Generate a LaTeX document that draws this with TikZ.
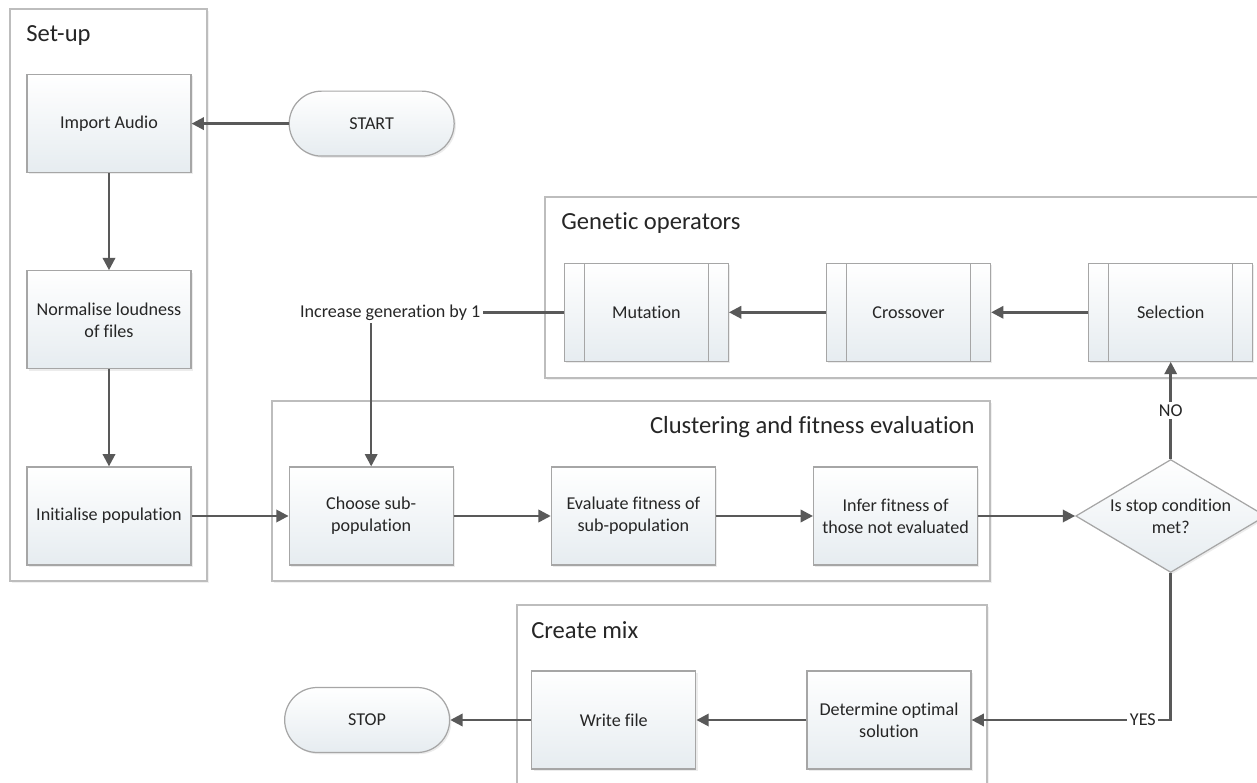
\documentclass[tikz,border=0pt]{standalone}
\usepackage{fontspec}
\setmainfont{Carlito}[Ligatures=NoCommon]
\usepackage{tikz}
\usetikzlibrary{arrows.meta,positioning,shapes.geometric,shadows}
\definecolor{ink}{HTML}{262626}
\definecolor{wire}{HTML}{595959}
\definecolor{edge}{HTML}{A6A6A6}
\definecolor{frame}{HTML}{BDBDBD}
\definecolor{shadebot}{HTML}{E6ECF0}

\begin{document}
\begin{tikzpicture}[x=0.02cm,y=-0.02cm,
  node distance=1.94cm,
  proc/.style={rectangle,draw=edge,line width=0.7pt,top color=white,bottom color=shadebot,
    minimum width=3.28cm,minimum height=1.96cm,align=center,
    font=\fontsize{10.3}{12.5}\selectfont,text=ink,
    drop shadow={shadow xshift=1pt,shadow yshift=-1pt,opacity=0.15}},
  sub/.style={proc,path picture={\draw[edge,line width=0.7pt]
    ([xshift=0.4cm]path picture bounding box.north west)--([xshift=0.4cm]path picture bounding box.south west)
    ([xshift=-0.4cm]path picture bounding box.north east)--([xshift=-0.4cm]path picture bounding box.south east);}},
  term/.style={proc,rounded corners=0.65cm,minimum width=3.3cm,minimum height=1.3cm},
  dec/.style={proc,diamond,aspect=1.68,minimum width=3.8cm,minimum height=2.26cm,inner sep=0pt},
  grp/.style={draw=frame,fill=white,line width=0.9pt,
    drop shadow={shadow xshift=1pt,shadow yshift=-1pt,opacity=0.12}},
  ttl/.style={font=\fontsize{14}{16}\selectfont,text=ink,inner sep=0pt},
  lbl/.style={fill=white,font=\fontsize{10.3}{12.5}\selectfont,text=ink,inner sep=1.5pt},
  arr/.style={-{Triangle[length=7pt,width=7pt]},line width=1.4pt,draw=wire},
]
  \useasboundingbox (0,0) rectangle (1257,783);
  % groups
  \draw[grp] (10,9) rectangle (207,581);
  \draw[grp] (545,197) rectangle (1275,378);
  \draw[grp] (272,401) rectangle (990,581);
  \draw[grp] (517,605) rectangle (987,800);
  \node[ttl,anchor=base west] (tsetup) at (26,42) {Set-up};
  \node[ttl,anchor=base west] (tgen) at (561,230) {Genetic operators};
  \node[ttl,anchor=base east] (tclu) at (975,434) {Clustering and fitness evaluation};
  \node[ttl,anchor=base west] (tmix) at (531,638) {Create mix};

  \node[proc] (init) at (109,516) {Initialise population};
  \node[proc,above=of init] (norm) {Normalise loudness\\ of files};
  \node[proc,above=of norm] (imp) {Import Audio};
  \node[term,right=of imp] (start) {START};
  \node[proc,right=of init] (choose) {Choose sub-\\ population};
  \node[proc,right=of choose] (evf) {Evaluate fitness of\\ sub-population};
  \node[proc,right=of evf] (infer) {Infer fitness of\\ those not evaluated};
  \node[dec,right=of infer] (dia) {Is stop condition\\ met?};
  \node[sub,above=of dia] (sel) {Selection};
  \node[sub,left=of sel] (cross) {Crossover};
  \node[sub,left=of cross] (mut) {Mutation};
  \node[proc] (det) at (889,720) {Determine optimal\\ solution};
  \node[proc,left=2.2cm of det] (wf) {Write file};
  \node[term,left=1.62cm of wf] (stop) {STOP};

  \draw[arr] (start)--(imp); \draw[arr] (imp)--(norm); \draw[arr] (norm)--(init);
  \draw[arr] (init)--(choose); \draw[arr] (choose)--(evf); \draw[arr] (evf)--(infer);
  \draw[arr] (infer)--(dia);
  \draw[arr] (dia)--node[lbl]{NO}(sel);
  \draw[arr] (sel)--(cross); \draw[arr] (cross)--(mut);
  \draw[arr] (mut.west)-|node[lbl,pos=0.5,xshift=0.38cm]{Increase generation by 1}(choose.north);
  \draw[arr] (dia.south)|-node[lbl,pos=0.57]{YES}(det.east);
  \draw[arr] (det)--(wf); \draw[arr] (wf)--(stop);
\end{tikzpicture}
\end{document}
